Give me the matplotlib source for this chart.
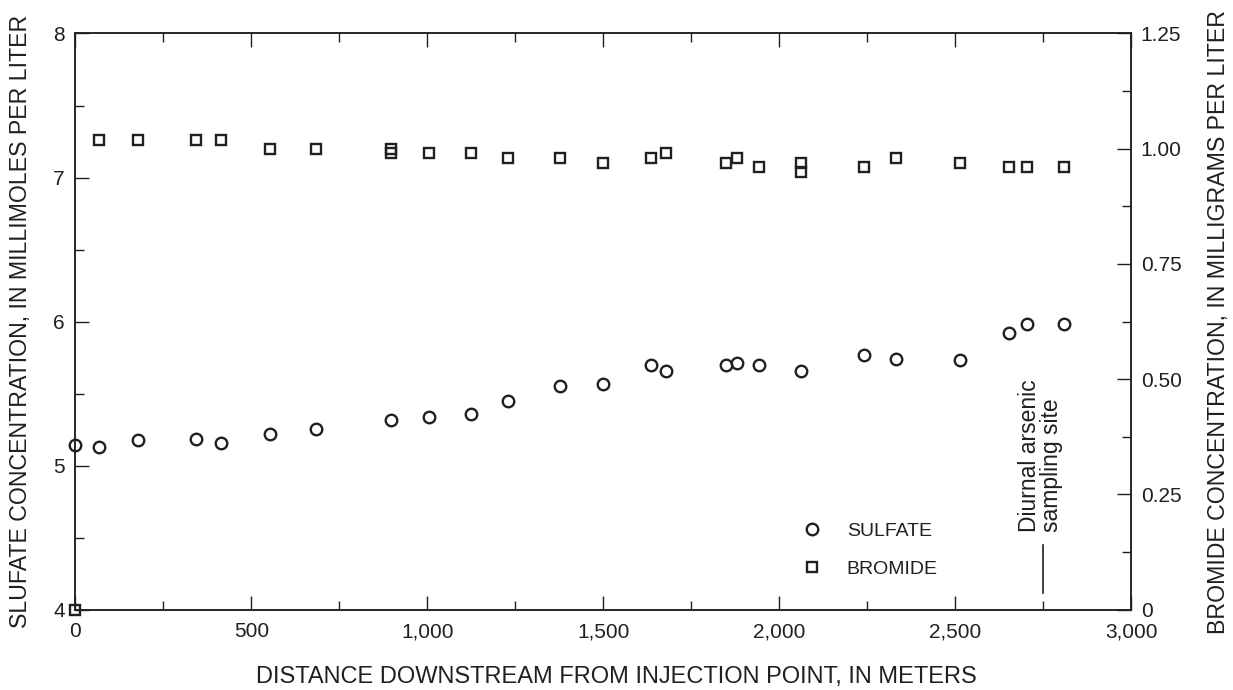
import matplotlib
matplotlib.use('Agg')
import matplotlib.pyplot as plt
from matplotlib.ticker import MultipleLocator, FuncFormatter

plt.rcParams['font.family'] = ['Liberation Sans', 'DejaVu Sans']

INK = '#231f20'

# sulfate samples (left axis, millimoles per liter)
sulfate_dist = [0, 68, 178, 344, 414, 552, 685, 897, 1006, 1124, 1230, 1376, 1500,
                1635, 1680, 1850, 1879, 1942, 2062, 2241, 2331, 2513, 2653, 2704, 2810]
sulfate_conc = [5.14, 5.13, 5.175, 5.185, 5.16, 5.22, 5.255, 5.315, 5.34, 5.36, 5.45, 5.55, 5.57,
                5.70, 5.66, 5.70, 5.71, 5.70, 5.66, 5.77, 5.74, 5.73, 5.92, 5.985, 5.985]

# bromide samples (right axis, milligrams per liter)
bromide_dist = [0, 68, 178, 344, 414, 552, 685, 897, 897, 1006, 1124, 1230, 1376, 1500,
                1635, 1680, 1850, 1879, 1942, 2062, 2062, 2241, 2331, 2513, 2653, 2704, 2810]
bromide_conc = [0.0, 1.02, 1.02, 1.02, 1.02, 1.00, 1.00, 1.00, 0.99, 0.99, 0.99, 0.98, 0.98, 0.97,
                0.98, 0.99, 0.97, 0.98, 0.96, 0.97, 0.95, 0.96, 0.98, 0.97, 0.96, 0.96, 0.96]

site_dist = 2750

W, H = 1233, 690
fig = plt.figure(figsize=(W / 100, H / 100), dpi=100)
ax = fig.add_axes([75.3 / W, 1 - 609.7 / H, (1131 - 75.3) / W, (609.7 - 33.5) / H])
ax2 = ax.twinx()

fs_tick = 15
fs_xlab = 17
fs_ylab = 16.7
fs_leg = 14
fs_note = 16.5

# sulfate
l1, = ax.plot(sulfate_dist, sulfate_conc, 'o', ms=8.3, mfc='none', mec=INK, mew=1.7,
              clip_on=False, zorder=5, label='SULFATE')
# bromide
l2, = ax2.plot(bromide_dist, bromide_conc, 's', ms=7.6, mfc='none', mec=INK, mew=1.7,
               clip_on=False, zorder=5, label='BROMIDE')

ax.set_xlim(0, 3000)
ax.set_ylim(4, 8)
ax2.set_ylim(0, 1.25)

ax.xaxis.set_major_locator(MultipleLocator(500))
ax.xaxis.set_minor_locator(MultipleLocator(250))
ax.yaxis.set_major_locator(MultipleLocator(1))
ax.yaxis.set_minor_locator(MultipleLocator(0.5))
ax2.yaxis.set_major_locator(MultipleLocator(0.25))
ax2.yaxis.set_minor_locator(MultipleLocator(0.125))

ax.xaxis.set_major_formatter(FuncFormatter(lambda v, p: f'{int(v):,}'))
ax2.yaxis.set_major_formatter(FuncFormatter(lambda v, p: '0' if v == 0 else f'{v:.2f}'))

ax.tick_params(axis='x', which='both', direction='in', top=True, bottom=True,
               colors=INK, labelsize=fs_tick, pad=9)
ax.tick_params(axis='y', which='both', direction='in', left=True, right=False,
               colors=INK, labelsize=fs_tick, pad=7.5)
ax2.tick_params(axis='y', which='both', direction='in', right=True, left=False,
                colors=INK, labelsize=fs_tick, pad=7)
for a in (ax, ax2):
    a.tick_params(which='major', length=10, width=1.0)
    a.tick_params(which='minor', length=6.5, width=1.0)
    for s in a.spines.values():
        s.set_color(INK)
        s.set_linewidth(1.1)

ax.set_xlabel('DISTANCE DOWNSTREAM FROM INJECTION POINT, IN METERS', fontsize=fs_xlab,
              color=INK)
ax.xaxis.set_label_coords(0.513, -0.1168, transform=ax.transAxes)
ax.xaxis.label.set_va('center')
ax.set_ylabel('SLUFATE CONCENTRATION, IN MILLIMOLES PER LITER', fontsize=fs_ylab,
              color=INK, labelpad=15)
ax2.set_ylabel('BROMIDE CONCENTRATION, IN MILLIGRAMS PER LITER', fontsize=fs_ylab,
               color=INK, labelpad=18)

# sampling site marker
ax.plot([site_dist, site_dist], [4.117, 4.45], color=INK, lw=1.2)
ax.text(site_dist - 8, 4.54, 'Diurnal arsenic\nsampling site', rotation=90,
        ha='center', va='bottom', multialignment='left', fontsize=fs_note, color=INK,
        linespacing=0.95)

leg = ax2.legend(handles=[l1, l2], loc='upper left',
                 bbox_to_anchor=(802 / W, 1 - 522 / H), bbox_transform=fig.transFigure,
                 frameon=False, fontsize=fs_leg, handlelength=1.0, handletextpad=1.3,
                 labelspacing=1.05, borderpad=0, borderaxespad=0)
for t in leg.get_texts():
    t.set_color(INK)

fig.savefig('out.png', dpi=100)
